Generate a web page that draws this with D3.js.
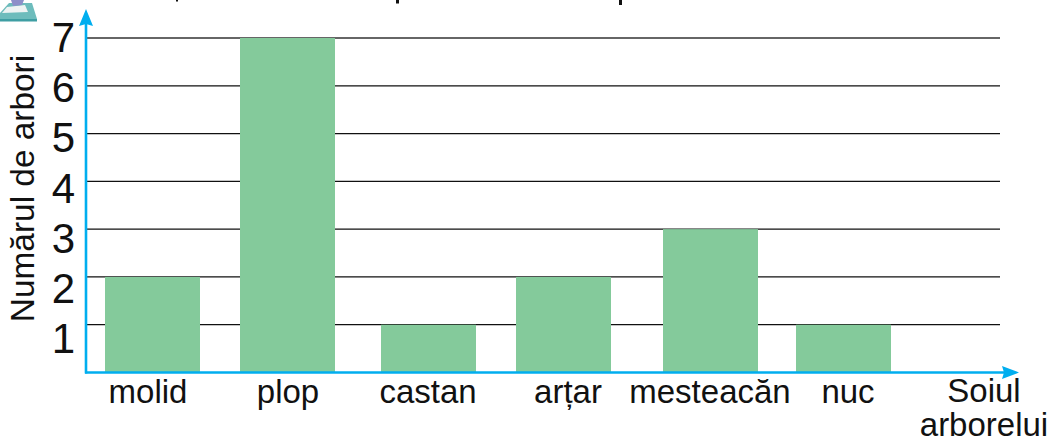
<!DOCTYPE html>
<html><head><meta charset="utf-8">
<script src="https://cdn.jsdelivr.net/npm/d3@7"></script>
<style>html,body{margin:0;background:#fff;overflow:hidden}svg{display:block}text{font-family:"Liberation Sans",Arial,sans-serif;fill:#111}</style>
</head><body><svg id="c" width="1051" height="439"></svg>
<script>
const categories=["molid","plop","castan","arțar","mesteacăn","nuc"];
const values=[2,7,1,2,3,1];
const yTicks=[1,2,3,4,5,6,7];
const yTitle="Numărul de arbori";
const xTitle=["Soiul","arborelui"];
// layout: the source spaces its bars unevenly, so the band centres are listed by hand
const barCentres=[152.5,287.5,428.5,563.5,710.5,843.5];
const labelCentres=[148,288,428,568,710,848];
const barWidth=95;
const svg=d3.select("#c");
const x=d3.scaleOrdinal().domain(categories).range(barCentres);
const xl=d3.scaleOrdinal().domain(categories).range(labelCentres);
const y=d3.scaleLinear().domain([0,7]).range([372.5,38]);
// the tick digits in the source sit on their own, slightly wider spacing
const yLabel=d3.scaleLinear().domain([1,7]).range([338,37]);
const blue="#00aeef";
// cropped picture and cropped title remnants along the top edge
const icon=svg.append("g");
icon.append("path").attr("d","M9,3L32,3L37,19L37,21L0,21L0,13Z").attr("fill","#6dbcbc");
icon.append("path").attr("d","M0,19L37,19L37,21.5L0,21.5Z").attr("fill","#3f9ea3");
icon.append("path").attr("d","M7,7L25,5L28,12L2,13Z").attr("fill","#eef3f3");
icon.append("path").attr("d","M11,0L24,0L22,5L13,6Z").attr("fill","#8d8fc9");
svg.append("g").selectAll("rect").data([[176,2,1.5],[396,3,3.5],[619,3,5]]).join("rect")
 .attr("x",d=>d[0]).attr("y",0).attr("width",d=>d[1]).attr("height",d=>d[2]).attr("fill","#111");
svg.append("g").selectAll("line").data(yTicks).join("line")
 .attr("x1",86).attr("x2",1000).attr("y1",d=>y(d)).attr("y2",d=>y(d))
 .attr("stroke",d=>d===7?"#333":"#111").attr("stroke-width",d=>d===7?1.6:1.3);
svg.append("g").selectAll("rect").data(categories).join("rect")
 .attr("x",d=>x(d)-barWidth/2).attr("width",barWidth)
 .attr("y",(d,i)=>y(values[i])).attr("height",(d,i)=>y(0)-y(values[i]))
 .attr("fill","#84ca9b");
svg.append("line").attr("x1",86).attr("x2",86).attr("y1",373.5).attr("y2",24).attr("stroke",blue).attr("stroke-width",2.6);
svg.append("line").attr("x1",85).attr("x2",1006).attr("y1",372.5).attr("y2",372.5).attr("stroke",blue).attr("stroke-width",2.6);
svg.append("path").attr("d","M86,9L93,26L86,24L79,26Z").attr("fill",blue);
svg.append("path").attr("d","M1019,372.5L1002,366L1004,372.5L1002,379Z").attr("fill",blue);
svg.append("g").selectAll("text").data(yTicks).join("text")
 .attr("x",75).attr("y",d=>yLabel(d)+15).attr("text-anchor","end").attr("font-size",42).text(d=>d);
svg.append("g").selectAll("text").data(categories).join("text")
 .attr("x",d=>xl(d)).attr("y",403).attr("text-anchor","middle").attr("font-size",33).text(d=>d);
svg.append("text").attr("transform","translate(34,188.5) rotate(-90)").attr("text-anchor","middle").attr("font-size",33.4).text(yTitle);
svg.append("g").selectAll("text").data(xTitle).join("text")
 .attr("x",984).attr("y",(d,i)=>402+i*34).attr("text-anchor","middle").attr("font-size",33).text(d=>d);
</script></body></html>
